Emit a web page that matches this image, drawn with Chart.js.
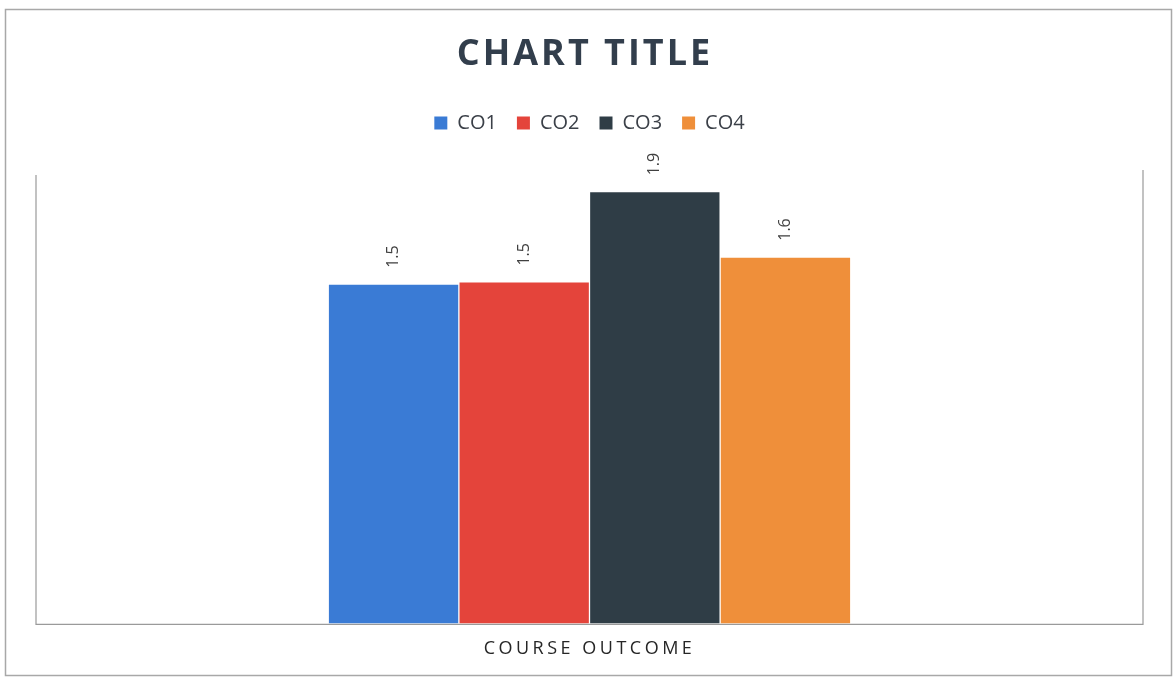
<!DOCTYPE html>
<html>
<head>
<meta charset="utf-8">
<script src="https://cdn.jsdelivr.net/npm/chart.js@4.4.0/dist/chart.umd.min.js"></script>
<style>
  html, body { margin: 0; padding: 0; background: #fff; }
  #wrap { width: 1174px; height: 678px; position: relative; }
</style>
</head>
<body>
<div id="wrap"><canvas id="mainChart"></canvas></div>
<script>
const categories = ['COURSE OUTCOME'];
const seriesNames = ['CO1', 'CO2', 'CO3', 'CO4'];
const seriesValues = [1.5, 1.51, 1.91, 1.62];
const seriesColors = ['#3a7bd5', '#e4443b', '#2f3d46', '#ef8f3a'];
const chartTitle = 'CHART TITLE';

// frame, rotated value labels, spaced title text
const decorations = {
    id: 'decorations',
    beforeDraw(chart) {
        const ctx = chart.ctx;
        ctx.save();
        ctx.strokeStyle = '#a8a8a8';
        ctx.lineWidth = 1.5;
        ctx.strokeRect(5.5, 9.5, 1166, 666);
        const a = chart.chartArea;
        ctx.strokeStyle = '#9a9a9a';
        ctx.lineWidth = 1.2;
        ctx.beginPath();
        ctx.moveTo(a.left, a.top + 3);
        ctx.lineTo(a.left, a.bottom + 1);
        ctx.lineTo(a.right, a.bottom + 1);
        ctx.lineTo(a.right, a.top - 2);
        ctx.stroke();
        ctx.restore();
    },
    afterDatasetsDraw(chart) {
        const ctx = chart.ctx;
        ctx.save();
        ctx.fillStyle = '#404040';
        ctx.font = '16px "Open Sans"';
        ctx.textAlign = 'left';
        ctx.textBaseline = 'middle';
        chart.data.datasets.forEach((ds, i) => {
            const meta = chart.getDatasetMeta(i);
            meta.data.forEach((bar, j) => {
                ctx.save();
                ctx.translate(bar.x, bar.y - 17);
                ctx.rotate(-Math.PI / 2);
                ctx.fillText(ds.data[j].toFixed(1), 0, 0);
                ctx.restore();
            });
        });
        ctx.restore();
        // category tick layer (z: 1) is drawn next, spaced out
        ctx.letterSpacing = '3.5px';
    },
    afterDraw(chart) {
        const ctx = chart.ctx;
        ctx.letterSpacing = '0px';
        ctx.save();
        ctx.letterSpacing = '3px';
        ctx.fillStyle = '#323e4c';
        ctx.font = 'bold 36px "Open Sans"';
        ctx.textAlign = 'center';
        ctx.textBaseline = 'middle';
        ctx.fillText(chartTitle, 585, 55);
        ctx.restore();
        ctx.letterSpacing = '0px';
    }
};

const ctx = document.getElementById('mainChart').getContext('2d');

new Chart(ctx, {
    type: 'bar',
    data: {
        labels: categories,
        datasets: seriesNames.map((name, i) => ({
            label: name,
            data: [seriesValues[i]],
            backgroundColor: seriesColors[i],
            borderWidth: 0
        }))
    },
    options: {
        responsive: true,
        maintainAspectRatio: false,
        animation: false,
        datasets: {
            bar: {
                categoryPercentage: 0.472,
                barPercentage: 0.99
            }
        },
        layout: {
            padding: { top: 93, left: 36, right: 31, bottom: 3 }
        },
        plugins: {
            legend: {
                position: 'top',
                labels: {
                    boxWidth: 13,
                    boxHeight: 13,
                    padding: 20,
                    color: '#3b4048',
                    font: { family: '"Open Sans"', size: 20 }
                }
            },
            title: { display: false },
            tooltip: { enabled: false }
        },
        scales: {
            x: {
                grid: { display: false, drawTicks: false },
                border: { display: false },
                ticks: {
                    z: 1,
                    padding: 15,
                    color: '#262626',
                    font: { family: '"Open Sans"', size: 18 }
                }
            },
            xTop: {
                type: 'category',
                position: 'top',
                labels: categories,
                grid: { display: false, drawTicks: false },
                border: { display: false },
                ticks: { display: false },
                afterFit(scale) { scale.height = 29; }
            },
            y: {
                display: false,
                min: 0,
                max: 2
            }
        }
    },
    plugins: [decorations]
});
</script>
</body>
</html>
